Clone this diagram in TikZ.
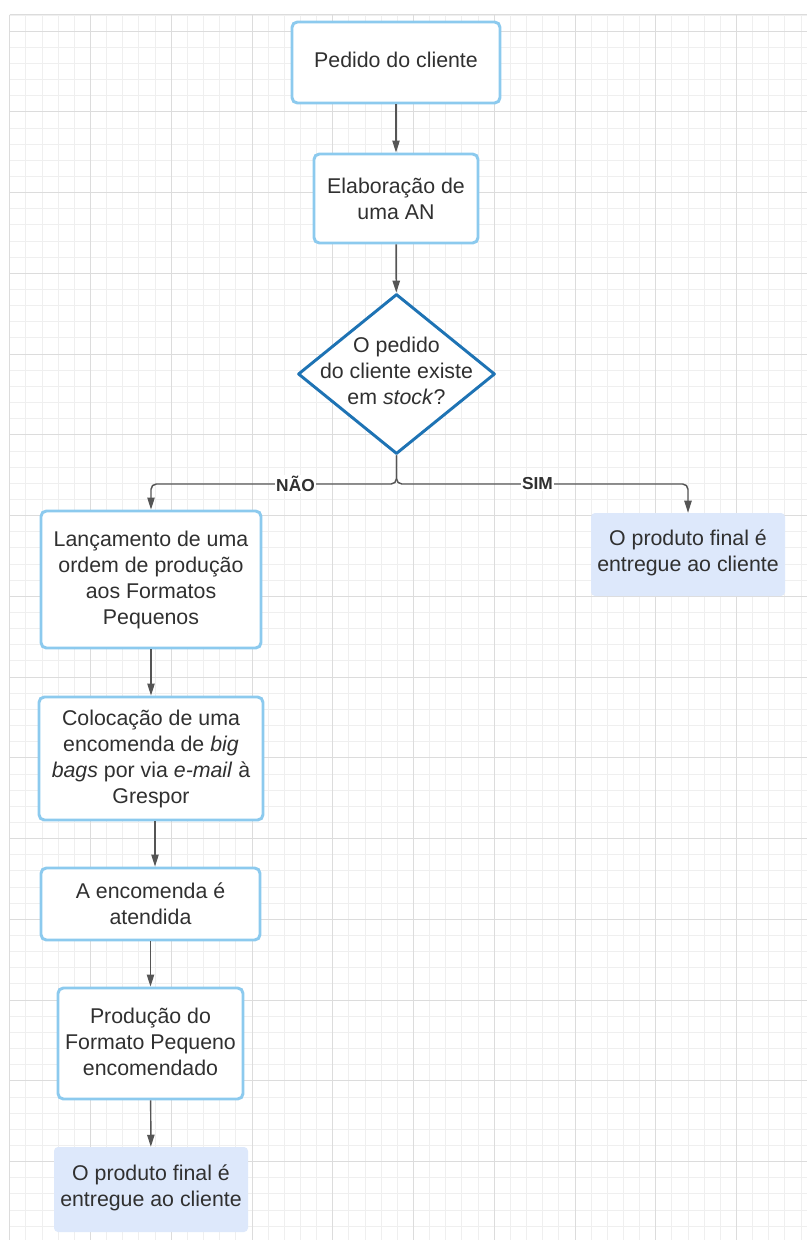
\documentclass[tikz,border=0pt]{standalone}
\usepackage{fontspec}
\setmainfont{Liberation Sans}
\usetikzlibrary{shapes.geometric,arrows.meta}

\definecolor{gridminor}{HTML}{EFEFEF}
\definecolor{gridmajor}{HTML}{DCDCDC}
\definecolor{boxline}{RGB}{140,202,238}
\definecolor{diamline}{HTML}{1E73B4}
\definecolor{endfill}{HTML}{DDE8FB}
\definecolor{txt}{HTML}{303030}
\definecolor{conn}{HTML}{555555}

\newdimen\pxu
\pxu=0.75pt

\begin{document}
\begin{tikzpicture}[x=0.75pt,y=-0.75pt,
  every node/.style={font=\fontsize{16}{19.5}\selectfont, text=txt, align=center, inner sep=0pt},
  procbox/.style={draw=boxline, line width=2.2pt, rounded corners=4pt, fill=white},
  endbox/.style={fill=endfill, rounded corners=3pt},
  decision/.style={diamond, draw=diamline, line width=2.2pt, fill=white, line join=round},
  arr/.style={draw=conn, line width=1.1pt, -{Triangle[length=9pt,width=5.5pt]}},
  lbl/.style={font=\bfseries\fontsize{13}{15}\selectfont, fill=white, inner xsep=1pt, inner ysep=1pt, text=txt},
  minorline/.style={gridminor, line width=0.75pt},
  majorline/.style={gridmajor, line width=0.9pt}
]
\useasboundingbox (0,0) rectangle (807,1240);
\fill[white] (0,0) rectangle (807,1240);

% background grid, lines snapped to pixel centres
\foreach \i in {0,...,49} {
  \pgfmathsetmacro\gx{round(9.3+\i*16.15)+0.5}
  \draw[minorline] (\gx,14.5) -- (\gx,1240);
}
\foreach \j in {0,...,75} {
  \pgfmathsetmacro\gy{round(14.5+\j*16.15)+0.5}
  \draw[minorline] (9.5,\gy) -- (807,\gy);
}
\foreach \i in {0,5,...,45} {
  \pgfmathsetmacro\gx{round(9.3+\i*16.15)+0.5}
  \draw[majorline] (\gx,14.5) -- (\gx,1240);
}
\foreach \j in {1,6,...,71} {
  \pgfmathsetmacro\gy{round(14.5+\j*16.15)+0.5}
  \draw[majorline] (9.5,\gy) -- (807,\gy);
}
\draw[majorline] (9.5,14.5) -- (807,14.5);

% flow nodes
\node[procbox, minimum width=208\pxu, minimum height=81\pxu, text depth=3.5pt] (pedido) at (396,62.5) {Pedido do cliente};
\node[procbox, minimum width=164\pxu, minimum height=89\pxu] (elab) at (396,198.5) {Elaboração de\\uma AN};
\node[decision, minimum width=197\pxu, minimum height=160\pxu] (q) at (396.5,374) {};
\node (qtext) at ([yshift=3.5\pxu]q.center) {O pedido\\do cliente existe\\em \textit{stock}?};
\node[procbox, minimum width=220\pxu, minimum height=137\pxu] (lanc) at (151,579.5) {Lançamento de uma\\ordem de produção\\aos Formatos\\Pequenos};
\node[endbox, minimum width=194\pxu, minimum height=83\pxu, text depth=6.4pt] (fimsim) at (688,554.5) {O produto final é\\entregue ao cliente};
\node[procbox, minimum width=224\pxu, minimum height=123\pxu] (coloc) at (151,758.5) {Colocação de uma\\encomenda de \textit{big}\\\textit{bags} por via \textit{e-mail} à\\Grespor};
\node[procbox, minimum width=219\pxu, minimum height=72\pxu] (enc) at (150.5,904) {A encomenda é\\atendida};
\node[procbox, minimum width=185\pxu, minimum height=111\pxu, text depth=3.2pt] (prod) at (150.5,1043.5) {Produção do\\Formato Pequeno\\encomendado};
\node[endbox, minimum width=194\pxu, minimum height=85\pxu, text depth=6.4pt] (fimnao) at (151,1189.5) {O produto final é\\entregue ao cliente};

% connectors
\coordinate (split) at (396.5,484);
\draw[arr] (pedido) -- (elab);
\draw[arr] (elab) -- (q);
\draw[arr, rounded corners=4pt] (q.south) -- (split) -| (lanc.north);
\draw[arr, rounded corners=4pt] (q.south) -- (split) -| (fimsim.north);
\node[lbl] (nao) at (295.5,484) {NÃO};
\node[lbl] (sim) at (537.5,484) {SIM};
\draw[arr] (lanc) -- (coloc);
\draw[arr] ([xshift=4\pxu]coloc.south) -- ([xshift=4\pxu]coloc.south |- enc.north);
\draw[arr] (enc) -- (prod);
\draw[arr] (prod) -- (fimnao);
\end{tikzpicture}
\end{document}
